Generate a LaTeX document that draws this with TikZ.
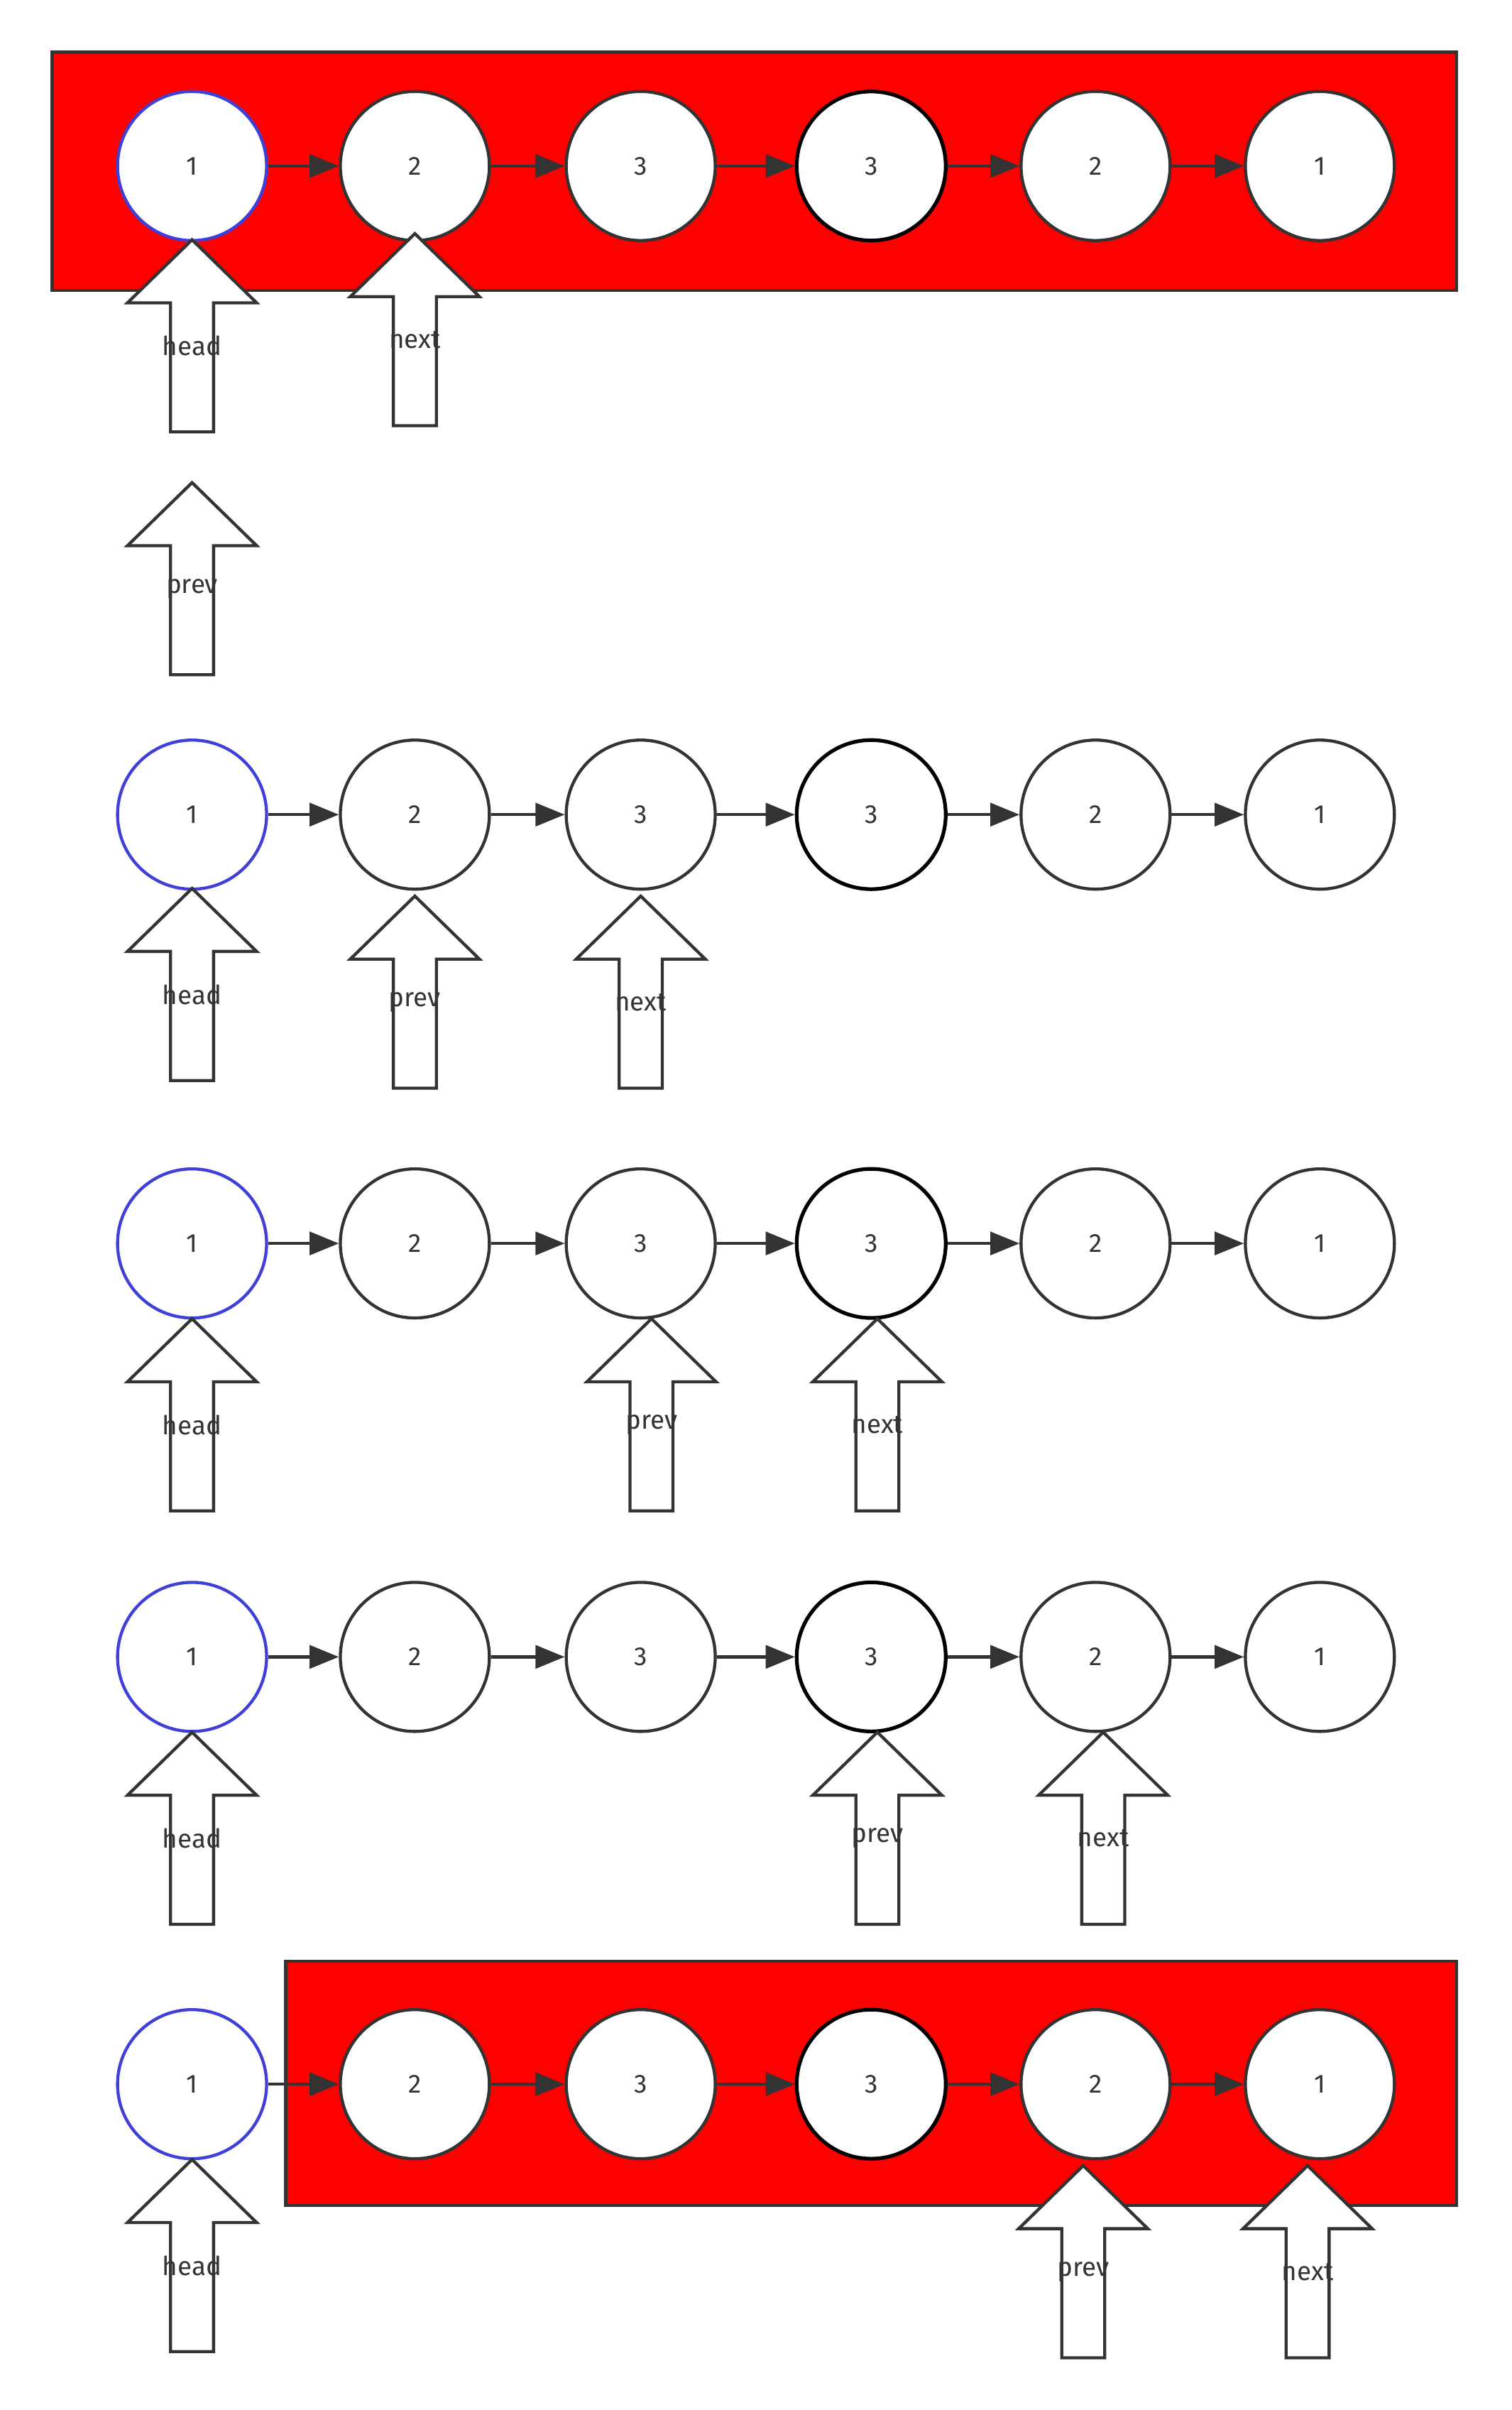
\documentclass[tikz,border=0pt]{standalone}
\usepackage{fontspec}
\setmainfont{Fira Sans}
\usetikzlibrary{arrows.meta}
\definecolor{ink}{HTML}{333333}
\definecolor{headblue}{RGB}{64,64,216}
\newcommand{\ptr}[4]{% name, x, tip y, label
  \draw[ptrline] (#2,#3) -- ++(42,41) -- ++(-28,0) -- ++(0,84) -- ++(-28,0)
    -- ++(0,-84) -- ++(-28,0) -- cycle;
  \node[ptrtext] (#1) at (#2,#3+69) {#4};
}
\begin{document}
\begin{tikzpicture}[x=1pt,y=-1pt,
  item/.style={circle,draw=ink,fill=white,line width=2pt,minimum size=97pt,inner sep=0pt,
    text=ink,font=\fontsize{17}{20}\selectfont},
  first/.style={draw=headblue},
  mid/.style={draw=black,line width=2.4pt},
  link/.style={draw=ink,line width=2pt,-{Triangle[length=19pt,width=15pt]}},
  ptrline/.style={draw=ink,fill=white,line width=2pt},
  ptrtext/.style={text=ink,font=\fontsize{17}{20}\selectfont,inner sep=0pt},
  window/.style={draw=ink,fill=red,line width=2pt}]
  \useasboundingbox (0,0) rectangle (984,1568);
  % windows
  \draw[window] (34,34) rectangle (948,189);
  \draw[window] (186,1276) rectangle (948,1435);
  % the five lists
  \foreach \r/\y in {1/108,2/530,3/809,4/1078,5/1356}{
    \node[item,first] (r\r n1) at (125,\y) {1};
    \node[item] (r\r n2) at (270,\y) {2};
    \node[item] (r\r n3) at (417,\y) {3};
    \node[item,mid] (r\r n4) at (567,\y) {3};
    \node[item] (r\r n5) at (713,\y) {2};
    \node[item] (r\r n6) at (859,\y) {1};
    \foreach \a/\b in {1/2,2/3,3/4,4/5,5/6}
      \draw[link] (r\r n\a) -- (r\r n\b);
  }
  % pointers
  \ptr{head1}{125}{156}{head}
  \ptr{next1}{270}{152}{next}
  \ptr{prev1}{125}{314}{prev}
  \ptr{head2}{125}{578}{head}
  \ptr{prev2}{270}{583}{prev}
  \ptr{next2}{417}{583}{next}
  \ptr{head3}{125}{858}{head}
  \ptr{prev3}{424}{858}{prev}
  \ptr{next3}{571}{858}{next}
  \ptr{head4}{125}{1127}{head}
  \ptr{prev4}{571}{1127}{prev}
  \ptr{next4}{718}{1127}{next}
  \ptr{head5}{125}{1405}{head}
  \ptr{prev5}{705}{1409}{prev}
  \ptr{next5}{851}{1409}{next}
\end{tikzpicture}
\end{document}
